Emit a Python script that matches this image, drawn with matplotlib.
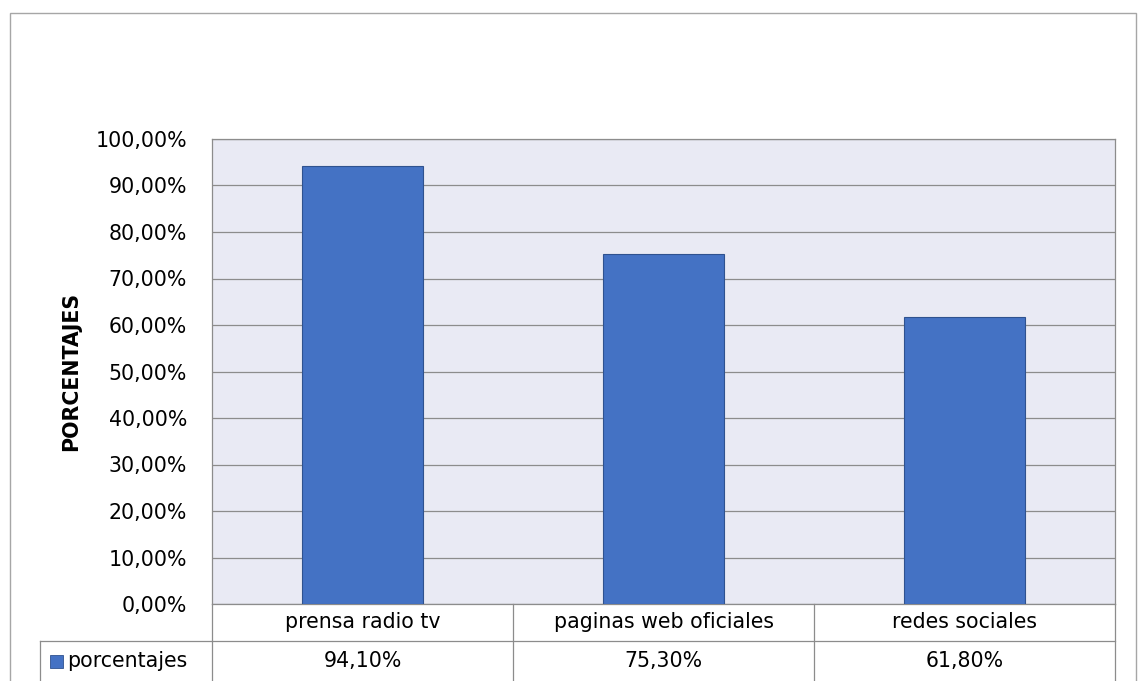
import matplotlib.pyplot as plt
import matplotlib.transforms as mtransforms
from matplotlib.patches import Rectangle

categories = ["prensa radio tv", "paginas web oficiales", "redes sociales"]
values = [94.10, 75.30, 61.80]
series_name = "porcentajes"
y_ticks = [0, 10, 20, 30, 40, 50, 60, 70, 80, 90, 100]

BAR_COLOR = "#4472C4"
BAR_EDGE = "#2F528F"
PLOT_BG = "#E9EAF4"
GRID = "#8C8C8C"
TABLE_LINE = "#8C8C8C"
TEXT = "#000000"
FONT_SIZE = 14.8

W, H = 1146, 681


def pct(v):
    return f"{v:.2f}%".replace(".", ",")


def main():
    plt.rcParams["font.family"] = ["DejaVu Sans"]
    fig = plt.figure(figsize=(W / 100, H / 100), dpi=100)

    # outer chart border
    fig.patches.append(Rectangle((10 / W, -0.1), 1126 / W, 1.1 - 13 / H, transform=fig.transFigure,
                                 fill=False, edgecolor="#A6A6A6", linewidth=1.0))

    left, right, top, bottom = 212, 1115, 139, 604
    ax = fig.add_axes([left / W, 1 - bottom / H, (right - left) / W, (bottom - top) / H])
    ax.set_facecolor(PLOT_BG)

    x = list(range(len(categories)))
    ax.bar(x, values, width=0.405, color=BAR_COLOR, edgecolor=BAR_EDGE, linewidth=0.8, zorder=3)
    ax.set_xlim(-0.5, len(categories) - 0.5)
    ax.set_ylim(0, 100)
    ax.set_yticks(y_ticks)
    ax.set_yticklabels([pct(t) for t in y_ticks], fontsize=FONT_SIZE, color=TEXT)
    ax.tick_params(axis="y", length=0, pad=18)
    ax.set_xticks([])
    ax.grid(axis="y", color=GRID, linewidth=0.9, zorder=0)
    ax.set_axisbelow(True)
    for s in ax.spines.values():
        s.set_color(GRID)
        s.set_linewidth(0.9)

    ax.set_ylabel("PORCENTAJES", fontsize=FONT_SIZE, fontweight="bold", color=TEXT)
    ax.yaxis.set_label_coords((81 - left) / (right - left), 0.5)

    # data table under the plot
    trans = mtransforms.blended_transform_factory(ax.transData, ax.transAxes)
    ph = bottom - top
    row1 = -(641 - bottom) / ph
    row2 = -(700 - bottom) / ph
    lw = 0.9
    for b in [i - 0.5 for i in range(len(categories) + 1)]:
        ax.plot([b, b], [0, row2], transform=trans, color=TABLE_LINE, lw=lw, clip_on=False)
    ax.plot([-0.5, len(categories) - 0.5], [row1, row1], transform=trans, color=TABLE_LINE, lw=lw, clip_on=False)
    leg_x = (40 - left) / (right - left)
    ax.plot([leg_x, 0], [row1, row1], transform=ax.transAxes, color=TABLE_LINE, lw=lw, clip_on=False)
    ax.plot([leg_x, leg_x], [row1, row2], transform=ax.transAxes, color=TABLE_LINE, lw=lw, clip_on=False)

    y_head = -(622 - bottom) / ph
    y_val = -(661 - bottom) / ph
    for i, (c, v) in enumerate(zip(categories, values)):
        ax.text(i, y_head, c, transform=trans, ha="center", va="center", fontsize=FONT_SIZE, color=TEXT)
        ax.text(i, y_val, pct(v), transform=trans, ha="center", va="center",
                fontsize=FONT_SIZE, color=TEXT)

    sq_x = (50 - left) / (right - left)
    sq_w = 13 / (right - left)
    sq_h = 13 / ph
    ax.add_patch(Rectangle((sq_x, y_val - sq_h / 2), sq_w, sq_h, transform=ax.transAxes,
                           facecolor=BAR_COLOR, edgecolor=BAR_EDGE, linewidth=0.6, clip_on=False))
    ax.text((67 - left) / (right - left), y_val, series_name, transform=ax.transAxes,
            ha="left", va="center", fontsize=FONT_SIZE, color=TEXT)

    fig.savefig("out.png", dpi=100, facecolor="white")


if __name__ == "__main__":
    main()
